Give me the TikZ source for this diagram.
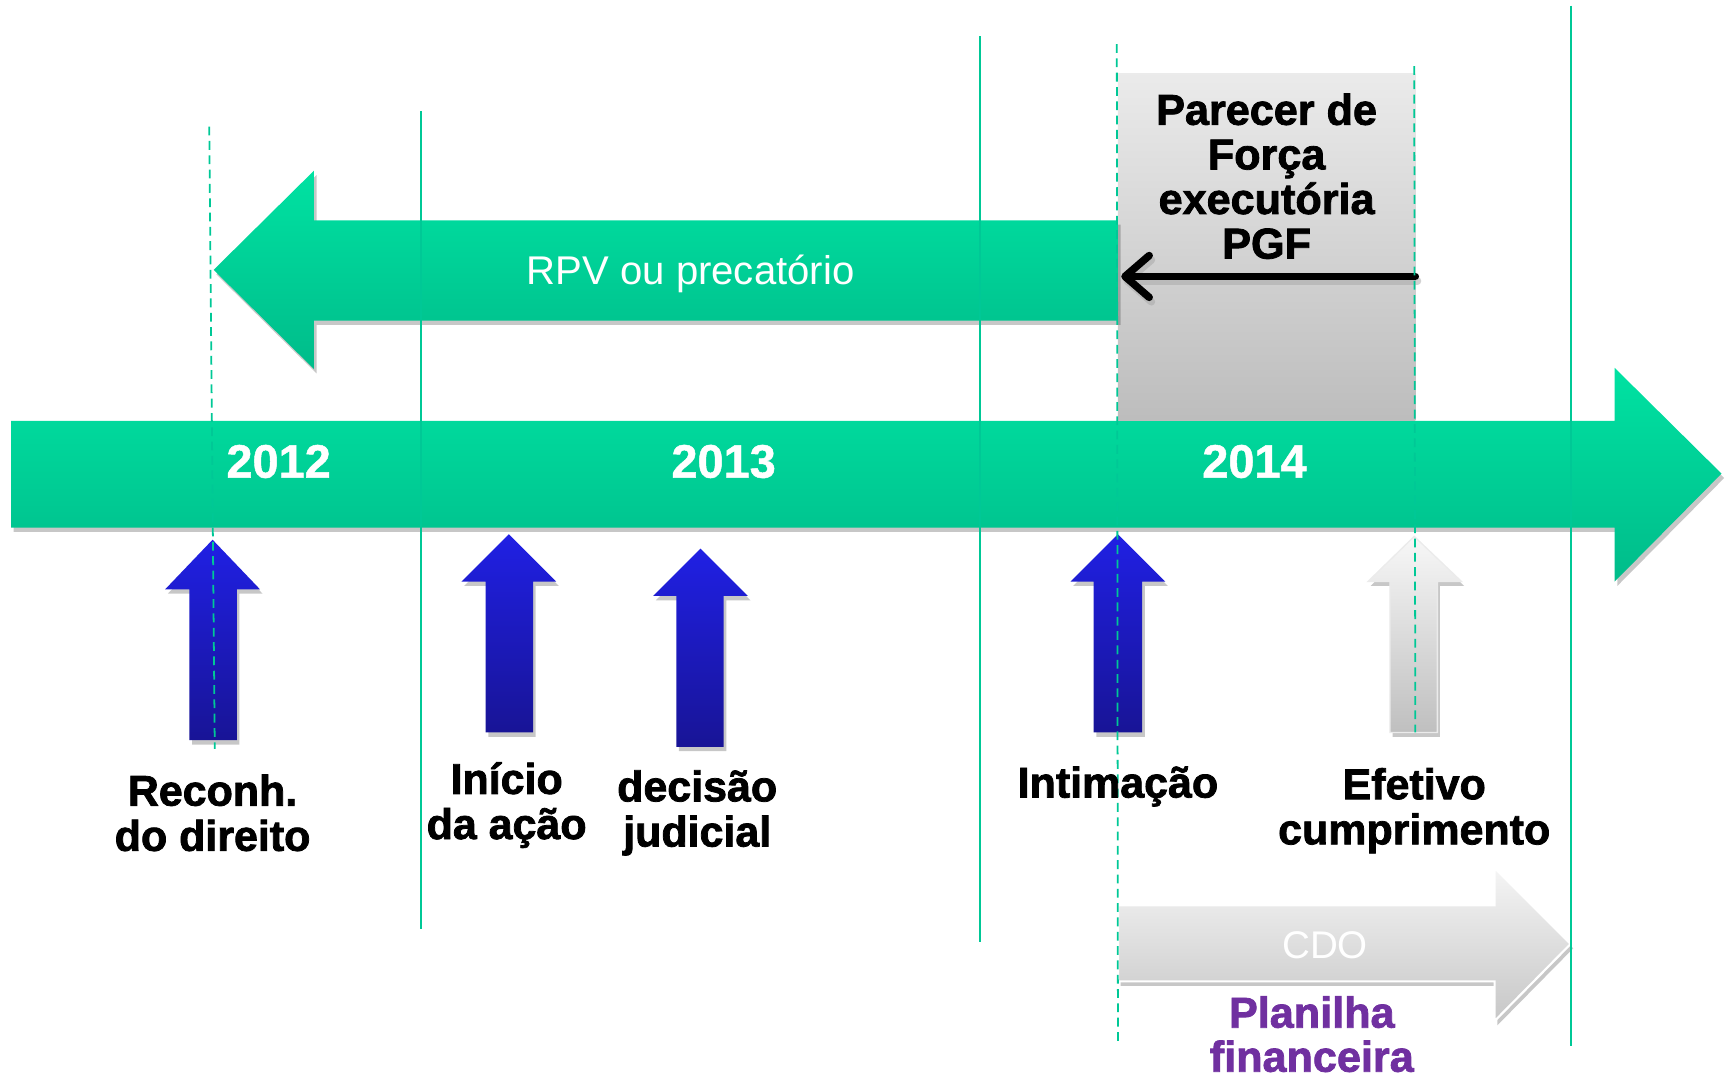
\documentclass[tikz,border=0pt]{standalone}
\usepackage{fontspec}
\setmainfont{Liberation Sans}
\newfontfamily\heavyfont[FakeBold=1.8]{Liberation Sans Bold}
\newfontfamily\yearfont[FakeBold=1.0]{Liberation Sans Bold}
\usetikzlibrary{shadows,arrows.meta}
\definecolor{gtop}{RGB}{0,226,162}
\definecolor{gbot}{RGB}{0,188,138}
\definecolor{btop}{RGB}{32,32,228}
\definecolor{bbot}{RGB}{24,20,150}
\definecolor{lineteal}{RGB}{0,200,150}
\definecolor{purp}{RGB}{112,48,160}
\tikzset{
  shd/.style={drop shadow={shadow xshift=1.2pt,shadow yshift=-2pt,opacity=.22,fill=black}},
  greenarrow/.style={top color=gtop,bottom color=gbot,draw=none,shd},
  bluearrow/.style={top color=btop,bottom color=bbot,draw=none,shd},
  whitearrow/.style={top color=white!97!black,bottom color=white!75!black,draw=white!92!black,line width=0.6pt,shd},
  graybox/.style={top color=white!92!black,bottom color=white!74!black,draw=none},
  cdoarrow/.style={top color=white!96!black,bottom color=white!78!black,draw=white,line width=1pt,shd},
  solidline/.style={draw=lineteal,line width=0.8pt},
  dashline/.style={draw=lineteal,line width=0.8pt,dash pattern=on 4pt off 2.5pt},
  yearlbl/.style={text=white,font=\yearfont\fontsize{21.3}{24}\selectfont,inner sep=0pt},
  evlbl/.style={text=black,font=\heavyfont\fontsize{19.5}{20.5}\selectfont,align=center,inner sep=0pt},
  blk/.style={line width=3.4pt,line cap=round,-{Straight Barb[length=11pt,width=19pt,round]}},
}
\begin{document}
\begin{tikzpicture}[x=0.5pt,y=-0.5pt]
\useasboundingbox (0,0) rectangle (1568,982);
% main timeline arrow
\path[greenarrow] (10,382) -- (1466,382) -- (1466,334) -- (1563,430) -- (1466,528) -- (1466,479) -- (10,479) -- cycle;
% gray box
\path[graybox] (1015,67) rectangle (1285,382);
% RPV arrow
\path[greenarrow] (1015,200) -- (285,200) -- (285,155) -- (194,245) -- (285,335) -- (285,291) -- (1015,291) -- cycle;
\node[text=white,font=\fontsize{18.2}{20}\selectfont,inner sep=0pt] (rpv) at (627,249) {RPV ou precatório};
% gray box text
\node[evlbl,font=\heavyfont\fontsize{19.6}{20.25}\selectfont] (pgf) at (1150,160) {Parecer de\\Força\\executória\\PGF};
% black arrow
\coordinate (pgfE) at (1285,251);
\coordinate (rpvE) at (1018,251);
\draw[blk,draw=black!35,opacity=.5,transform canvas={xshift=1pt,yshift=-2pt}] (pgfE) -- (rpvE);
\draw[blk] (pgfE) -- (rpvE);
% years
\node[yearlbl] (y12) at (253,419) {2012};
\node[yearlbl] (y13) at (657,419) {2013};
\node[yearlbl] (y14) at (1139,419) {2014};
% event arrows
\path[bluearrow] (193,490) -- (236,535) -- (215,535) -- (215,672) -- (172,672) -- (172,535) -- (150,535) -- cycle;
\path[bluearrow] (462,485) -- (505,528) -- (484,528) -- (484,665) -- (441,665) -- (441,528) -- (419,528) -- cycle;
\path[bluearrow] (636,498) -- (679,541) -- (657,541) -- (657,678) -- (614,678) -- (614,541) -- (593,541) -- cycle;
\path[bluearrow] (1015,485) -- (1058,528) -- (1037,528) -- (1037,665) -- (993,665) -- (993,528) -- (972,528) -- cycle;
\path[whitearrow] (1284,487) -- (1327,528) -- (1305,528) -- (1305,665) -- (1262,665) -- (1262,528) -- (1242,528) -- cycle;
% CDO arrow
\path[cdoarrow] (1015,822) -- (1357,822) -- (1357,788) -- (1426,857) -- (1357,927) -- (1357,891) -- (1015,891) -- cycle;
\node[text=white,font=\fontsize{17.5}{20}\selectfont,inner sep=0pt] (cdo) at (1203,858) {CDO};
% vertical lines
\draw[solidline] (382,101) -- (382,843);
\draw[solidline] (890,33) -- (890,855);
\draw[solidline] (1426,5) -- (1426,950);
\draw[dashline] (190,115) -- (195,680);
\draw[dashline] (1014,40) -- (1015,948);
\draw[dashline] (1284,60) -- (1285,665);
% event labels
\node[evlbl] (reconh) at (193,738) {Reconh.\\do direito};
\node[evlbl] (inicio) at (460,731) {Início\\da ação};
\node[evlbl] (decisao) at (633,738) {decisão\\judicial};
\node[evlbl] (intim) at (1015,714) {Intimação};
\node[evlbl] (efet) at (1284,736) {Efetivo\\cumprimento};
\node[evlbl,text=purp,font=\heavyfont\fontsize{19.6}{20}\selectfont] (plan) at (1191,939) {Planilha\\financeira};
\end{tikzpicture}
\end{document}
